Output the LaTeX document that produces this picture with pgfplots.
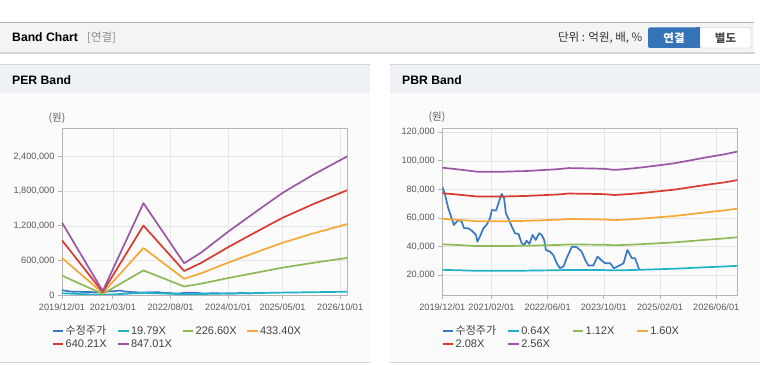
\documentclass[border=0pt]{standalone}
\usepackage{pgfplots}
\pgfplotsset{compat=1.18}
\usepackage{pgfplotstable}
\usepackage{fontspec}
\setmainfont{Liberation Sans}
\newfontfamily\kr{Noto Sans CJK KR}

\definecolor{pricec}{HTML}{3A78C4}
\definecolor{cyanc}{HTML}{1FB2C8}
\definecolor{greenc}{HTML}{8CBA55}
\definecolor{orangec}{HTML}{F5A836}
\definecolor{redc}{HTML}{D83A2F}
\definecolor{purplec}{HTML}{9B57A4}
\definecolor{axisgray}{HTML}{B4B4B4}
\definecolor{gridgray}{HTML}{E6E6E6}
\definecolor{ticktext}{HTML}{5A5A5A}
\definecolor{hdrbg}{HTML}{F4F4F4}
\definecolor{panelhdr}{HTML}{EEF2F7}
\definecolor{panelbg}{HTML}{FBFBFB}
\definecolor{btnblue}{HTML}{3473B8}

% month index from 2019/12 (0) ; price in won
\pgfplotstableread{
m v
0 82000
0.8 76200
1.7 66900
2.5 61000
3.3 55200
4.1 57500
4.8 58700
5.5 57500
6.2 52900
7.4 52900
8.4 51200
9.6 48200
10.0 43500
10.5 45900
11.7 52900
12.6 55200
13.6 59900
14.1 65700
15.3 65200
16.0 70400
16.9 76900
17.6 73800
18.1 63400
19.0 58700
19.8 54000
20.7 49400
21.7 48900
22.6 42400
23.3 41200
24.0 44200
24.8 41900
25.7 48200
26.6 44700
27.6 49400
28.3 48200
29.0 44700
29.5 37700
30.7 36500
31.6 34200
32.6 28400
33.5 24900
34.5 26100
35.4 31900
36.9 40000
38.3 39600
39.7 36500
40.7 30700
41.6 26800
43.0 26800
44.2 33100
45.4 30300
46.4 28400
47.8 28400
48.9 24900
50.2 26500
51.6 28400
52.7 37700
54.0 31900
54.9 31900
56.1 23700
}\price

% PER bands (won)
\pgfplotstableread{
m a b c d e
0 29368 336274 643166 950072 1256963
12 1583 18128 34672 51217 67761
24 37265 426688 816092 1205515 1594920
36 12883 147517 282143 416777 551404
41 17217 197142 377058 556983 736899
49 25707 294353 562987 831633 1100266
57 33643 385220 736780 1088357 1439917
65 41440 474500 907540 1340600 1773639
74 48763 558342 1067898 1577477 2087033
84 56204 643544 1230856 1818196 2405508
}\perband

% PBR bands (won)
\pgfplotstableread{
m a b c d e
0 23810 41660 59520 77380 95230
4 23550 41220 58880 76540 94210
10 23100 40430 57760 75090 92420
17 23100 40430 57760 75090 92420
24 23230 40660 58080 75500 92930
33 23550 41220 58880 76540 94210
36 23740 41550 59360 77170 94980
42 23680 41440 59200 76960 94720
46 23620 41330 59040 76750 94460
49 23420 40990 58560 76130 93700
53 23620 41330 59040 76750 94460
57 23870 41780 59680 77580 95490
62 24260 42450 60640 78830 97020
66 24580 43010 61440 79870 98300
70 25020 43790 62560 81330 100100
75 25600 44800 64000 83200 102400
80 26110 45700 65280 84860 104450
84 26620 46590 66560 86530 106500
}\pbrband

\pgfplotsset{
  bandaxis/.style={
    scale only axis, anchor=south west,
    xmin=0, xmax=84,
    axis line style={draw=axisgray, line width=0.8pt},
    tick style={draw=axisgray, line width=0.8pt},
    tick align=outside, major tick length=4pt,
    xtick pos=left, ytick pos=left,
    grid=major, major grid style={draw=gridgray, line width=0.7pt},
    tick label style={font=\fontsize{9.2}{10}\selectfont, text=ticktext},
    x tick label style={yshift=-1pt},
    yticklabel style={/pgf/number format/fixed, /pgf/number format/1000 sep={,}, /pgf/number format/assume math mode=true},
    scaled y ticks=false,
    every axis plot/.append style={line width=1.7pt, line join=round, mark=none},
  }
}

\newcommand\legitem[4]{%
  \draw[#3, line width=2pt] (#1pt,#2pt) -- ++(10.5pt,0pt);
  \node[anchor=west, inner sep=0pt, text=black!75, font=\fontsize{11}{12}\selectfont] at (#1pt+12.8pt,#2pt) {#4};
}

\begin{document}
\begin{tikzpicture}[x=1pt,y=1pt]
\useasboundingbox (0,0) rectangle (760,364);
% header bar
\fill[hdrbg] (0,312) rectangle (754,342);
\draw[black!30, line width=0.9pt] (0,342) -- (754,342);
\draw[black!16, line width=1.6pt] (0,311.2) -- (755,311.2);
\node[anchor=west, inner sep=0pt, font=\fontsize{12.2}{14}\selectfont\bfseries] at (12,326.5) {Band Chart};
\node[anchor=west, inner sep=0pt, text=black!45, font=\kr\fontsize{11.5}{12}\selectfont] at (87,326) {[연결]};
\node[anchor=east, inner sep=0pt, text=black!80, font=\kr\fontsize{11.5}{12}\selectfont] at (642.5,326) {단위 : 억원, 배, \%};
\fill[btnblue, rounded corners=2pt] (648,336.5) rectangle (700,316);
\draw[black!25, fill=white, rounded corners=2pt] (700,336.5) rectangle (751,316);
\fill[btnblue] (696,336.5) rectangle (700,316);
\node[text=white, font=\kr\fontsize{11.5}{12}\selectfont\bfseries] at (674,326) {연결};
\node[text=black!70, font=\kr\fontsize{11.5}{12}\selectfont\bfseries] at (725.5,326) {별도};

% panels
\foreach \px in {0,390} {
  \fill[panelbg] (\px,2) rectangle (\px+370,300);
  \fill[panelhdr] (\px,271) rectangle (\px+370,300);
  \draw[black!17, line width=0.9pt] (\px,300) -- (\px+370,300);
  \draw[black!17, line width=1pt] (\px,1.5) -- (\px+370,1.5);
}
\node[anchor=west, inner sep=0pt, font=\fontsize{12.2}{14}\selectfont\bfseries] at (12,284) {PER Band};
\node[anchor=west, inner sep=0pt, font=\fontsize{12.2}{14}\selectfont\bfseries] at (402,284) {PBR Band};
\node[text=ticktext, font=\kr\fontsize{10.5}{12}\selectfont] at (57,246) {(원)};
\node[text=ticktext, font=\kr\fontsize{10.5}{12}\selectfont] at (437,247) {(원)};

% PER axis
\begin{axis}[bandaxis, at={(62pt,69pt)}, width=285pt, height=167pt,
  ymin=0, ymax=2900000,
  ytick={0,600000,1200000,1800000,2400000},
  xtick={0,15,32,49,65,82},
  xticklabels={2019/12/01,2021/03/01,2022/08/01,2024/01/01,2025/05/01,2026/10/01}]
\addplot[pricec] table[x=m,y=v] {\price};
\addplot[cyanc] table[x=m,y=a] {\perband};
\addplot[greenc] table[x=m,y=b] {\perband};
\addplot[orangec] table[x=m,y=c] {\perband};
\addplot[redc] table[x=m,y=d] {\perband};
\addplot[purplec] table[x=m,y=e] {\perband};
\end{axis}

% PBR axis
\begin{axis}[bandaxis, at={(442.3pt,69pt)}, width=295pt, height=166.7pt,
  ymin=6200, ymax=122800,
  ytick={20000,40000,60000,80000,100000,120000},
  xtick={0,14,30,46,62,78},
  xticklabels={2019/12/01,2021/02/01,2022/06/01,2023/10/01,2025/02/01,2026/06/01}]
\addplot[pricec] table[x=m,y=v] {\price};
\addplot[cyanc] table[x=m,y=a] {\pbrband};
\addplot[greenc] table[x=m,y=b] {\pbrband};
\addplot[orangec] table[x=m,y=c] {\pbrband};
\addplot[redc] table[x=m,y=d] {\pbrband};
\addplot[purplec] table[x=m,y=e] {\pbrband};
\end{axis}

% legends
\legitem{52.7}{33.3}{pricec}{{\kr 수정주가}}
\legitem{118}{33.3}{cyanc}{19.79X}
\legitem{182.7}{33.3}{greenc}{226.60X}
\legitem{247}{33.3}{orangec}{433.40X}
\legitem{52.7}{20}{redc}{640.21X}
\legitem{118}{20}{purplec}{847.01X}

\legitem{442.7}{33.3}{pricec}{{\kr 수정주가}}
\legitem{508.3}{33.3}{cyanc}{0.64X}
\legitem{572.7}{33.3}{greenc}{1.12X}
\legitem{637.3}{33.3}{orangec}{1.60X}
\legitem{442.7}{20}{redc}{2.08X}
\legitem{508.3}{20}{purplec}{2.56X}
\end{tikzpicture}
\end{document}
